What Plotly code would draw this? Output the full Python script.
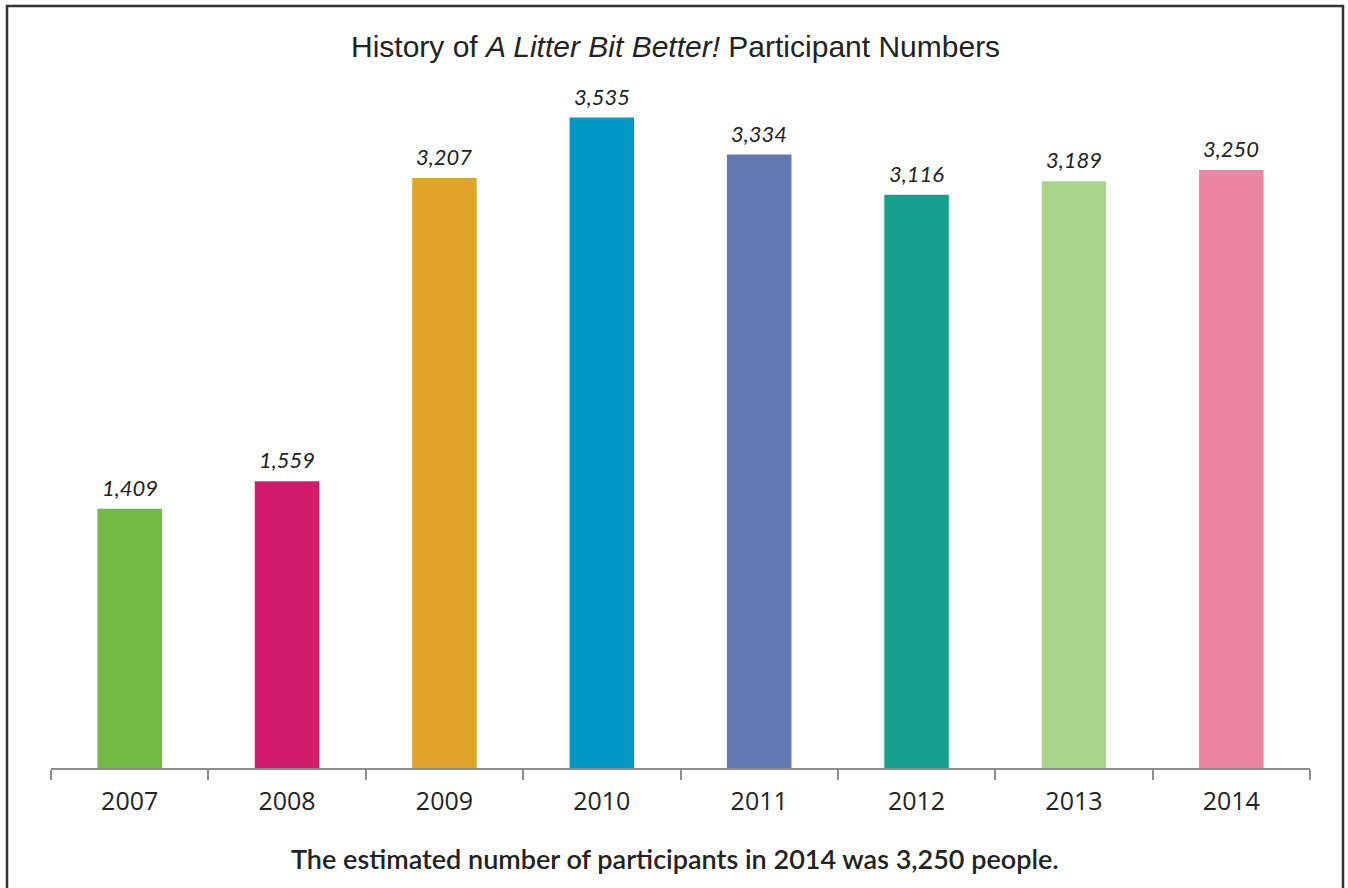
import plotly.graph_objects as go

years = ["2007", "2008", "2009", "2010", "2011", "2012", "2013", "2014"]
participants = [1409, 1559, 3207, 3535, 3334, 3116, 3189, 3250]
colors = ["#72B944", "#D01C6B", "#E0A428", "#0099C6", "#6479B2", "#169F8C", "#A8D58B", "#ED84A5"]
title_text = "History of <i>A Litter Bit Better!</i> Participant Numbers"
caption_text = "The estimated number of participants in 2014 was 3,250 people."

W, H = 1348, 888
ml, mr, mt, mb = 51, 38, 32, 120
pw = W - ml - mr
ph = H - mt - mb

def px_x(px):
    return (px - ml) / pw

def px_y(py):
    return (H - mb - py) / ph

fig = go.Figure()
fig.add_trace(go.Bar(
    x=years, y=participants,
    marker=dict(color=colors, line=dict(width=0)),
    width=0.41,
    hoverinfo="skip",
))

for i, v in enumerate(participants):
    fig.add_annotation(x=i, y=v, xref="x", yref="y", text="<i>%s</i>" % f"{v:,}",
                       showarrow=False, yanchor="bottom", yshift=6,
                       font=dict(family="Lato, Open Sans, sans-serif", size=22, color="#222"))

fig.add_annotation(x=px_x(675), y=px_y(46), xref="paper", yref="paper", text=title_text,
                   showarrow=False, xanchor="center", yanchor="middle",
                   font=dict(family="Liberation Sans Narrow, Liberation Sans, sans-serif", size=30, color="#222"))
fig.add_annotation(x=px_x(675), y=px_y(858), xref="paper", yref="paper", text=caption_text,
                   showarrow=False, xanchor="center", yanchor="middle",
                   font=dict(family="Lato, Open Sans, sans-serif", size=27, color="#222", weight=600))

fig.add_shape(type="path", xref="paper", yref="paper",
              path=f"M {px_x(7)} {px_y(900)} L {px_x(7)} {px_y(6)} L {px_x(1343)} {px_y(6)} L {px_x(1343)} {px_y(900)}",
              line=dict(color="#333", width=2.5), layer="above")

fig.update_layout(
    width=W, height=H,
    margin=dict(l=ml, r=mr, t=mt, b=mb),
    paper_bgcolor="white", plot_bgcolor="white",
    showlegend=False,
    bargap=0.59,
    xaxis=dict(type="category", range=[-0.5, 7.5], showline=True, linecolor="#8c8c8c", linewidth=2,
               ticks="outside", tickson="boundaries", ticklen=10, tickcolor="#8c8c8c", tickwidth=2,
               tickangle=0, ticklabelstandoff=10,
               tickfont=dict(family="Open Sans, Noto Sans, sans-serif", size=25, color="#222"),
               showgrid=False, zeroline=False, fixedrange=True),
    yaxis=dict(range=[0, 4000], visible=False, showgrid=False, zeroline=False, fixedrange=True),
)

fig.write_html("out.html")
